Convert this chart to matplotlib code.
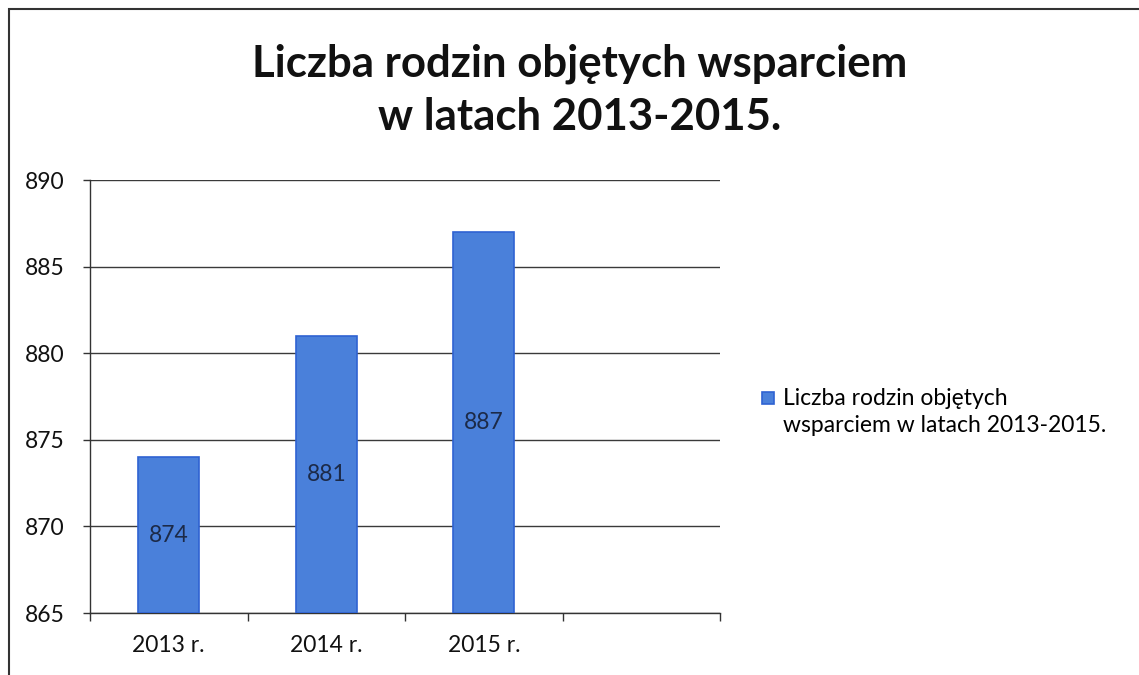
import matplotlib
matplotlib.use("Agg")
import matplotlib.pyplot as plt
from matplotlib.patches import Rectangle
from matplotlib.legend_handler import HandlerPatch

categories = ["2013 r.", "2014 r.", "2015 r."]
values = [874, 881, 887]
series_name = "Liczba rodzin objętych\nwsparciem w latach 2013-2015."
title = "Liczba rodzin objętych wsparciem\nw latach 2013-2015."
yticks = [865, 870, 875, 880, 885, 890]

plt.rcParams['font.family'] = ['Lato', 'DejaVu Sans']

W, H = 1139, 675
fig = plt.figure(figsize=(W / 100, H / 100), dpi=100)
ax = fig.add_axes([90 / W, 1 - 613 / H, (720 - 90) / W, (613 - 180) / H])

x = list(range(len(categories)))
bars = ax.bar(x, [v - yticks[0] for v in values], bottom=yticks[0], width=0.39,
              color="#4a80da", edgecolor="#2f62d2", linewidth=1.2, zorder=3,
              label=series_name)
for xi, v in zip(x, values):
    ax.text(xi, (v + yticks[0]) / 2, str(v), ha="center", va="center",
            fontsize=16.5, color="#1c2a48", zorder=4)

ax.set_xlim(-0.5, 3.5)
ax.set_ylim(yticks[0], yticks[-1])
ax.set_yticks(yticks)
ax.set_yticklabels([str(t) for t in yticks], fontsize=16.5, color="#111111")
ax.set_xticks(x)
ax.set_xticklabels(categories, fontsize=16.5, color="#111111")
ax.tick_params(axis="x", which="major", length=0, pad=16)
ax.set_xticks([-0.5, 0.5, 1.5, 2.5, 3.5], minor=True)
ax.tick_params(axis="x", which="minor", length=6, width=1, color="#333333", direction="out")
ax.tick_params(axis="y", length=5, width=1, color="#333333", pad=13)
ax.yaxis.grid(True, color="#3a3a3a", linewidth=1, zorder=0)
for s in ["top", "right"]:
    ax.spines[s].set_visible(False)
for s in ["left", "bottom"]:
    ax.spines[s].set_color("#333333")
    ax.spines[s].set_linewidth(1)
ax.set_axisbelow(True)

fig.text(580 / W, 1 - 90 / H, title, ha="center", va="center", fontsize=31.5,
         fontweight="bold", color="#111111", linespacing=1.4)


def top_square(legend, orig_handle, xdescent, ydescent, width, height, fontsize):
    s = width
    return Rectangle((-xdescent, -ydescent + height - s + 0.1 * fontsize), s, s)


leg = fig.legend(handles=[bars[0]], labels=[series_name], loc="center left",
                 bbox_to_anchor=(741 / W, 1 - 412 / H), frameon=False,
                 fontsize=16.5, handlelength=0.55, handleheight=2.2, handletextpad=0.4,
                 handler_map={Rectangle: HandlerPatch(patch_func=top_square)})
for t in leg.get_texts():
    t.set_linespacing(1.3)

fig.patches.append(Rectangle((9 / W, -0.1), 1.2, 1.1 - 9 / H, transform=fig.transFigure,
                             fill=False, edgecolor="#333333", linewidth=1.5))

fig.savefig("out.png", dpi=100)
